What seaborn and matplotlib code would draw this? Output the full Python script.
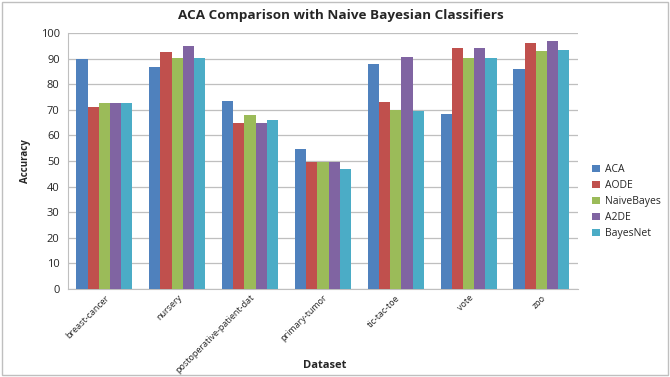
import pandas as pd
import matplotlib.pyplot as plt
import seaborn as sns
from matplotlib.patches import Rectangle

datasets = ["breast-cancer", "nursery", "postoperative-patient-dat", "primary-tumor",
            "tic-tac-toe", "vote", "zoo"]
classifiers = ["ACA", "AODE", "NaiveBayes", "A2DE", "BayesNet"]

aca = [89.7, 86.8, 73.3, 54.5, 88.0, 68.5, 86.1]
aode = [71.1, 92.7, 64.8, 49.5, 73.0, 94.3, 96.0]
naive_bayes = [72.7, 90.3, 68.1, 49.8, 69.9, 90.1, 93.1]
a2de = [72.5, 95.0, 64.8, 49.7, 90.7, 94.3, 97.0]
bayes_net = [72.6, 90.3, 65.9, 47.0, 69.7, 90.2, 93.4]

colors = ["#4F81BD", "#C0504D", "#9BBB59", "#8064A2", "#4BACC6"]

def main():
    wide = pd.DataFrame({"Dataset": datasets, "ACA": aca, "AODE": aode,
                         "NaiveBayes": naive_bayes, "A2DE": a2de, "BayesNet": bayes_net})
    df = wide.melt(id_vars="Dataset", var_name="Classifier", value_name="Accuracy")

    sns.set_style("white")
    plt.rcParams["font.family"] = ["Open Sans", "DejaVu Sans"]

    fig = plt.figure(figsize=(6.7, 3.77), dpi=100)
    ax = fig.add_axes([0.1015, 0.2334, 0.761, 0.679])

    sns.barplot(data=df, x="Dataset", y="Accuracy", hue="Classifier",
                hue_order=classifiers, palette=colors, width=0.77, saturation=1,
                linewidth=0, ax=ax, zorder=3)

    ax.set_ylim(0, 100)
    ax.set_xlim(-0.5, 6.5)
    ax.set_yticks(range(0, 101, 10))
    ax.yaxis.grid(True, color="#BFBFBF", linewidth=0.9, zorder=0)
    ax.set_axisbelow(True)
    for side in ["top", "right"]:
        ax.spines[side].set_visible(False)
    ax.spines["left"].set_color("#BFBFBF")
    ax.spines["bottom"].set_color("#BFBFBF")
    ax.tick_params(axis="y", labelsize=8, length=0, pad=6)
    ax.tick_params(axis="x", labelsize=6.5, length=0, pad=3)
    plt.setp(ax.get_xticklabels(), rotation=45, ha="right", rotation_mode="anchor")

    ax.set_title("ACA Comparison with Naive Bayesian Classifiers",
                 fontsize=9.7, fontweight="bold", pad=10, x=0.535)
    ax.set_ylabel("Accuracy", fontsize=7, fontweight="bold", labelpad=7)
    ax.set_xlabel("")
    fig.text(0.484, 0.025, "Dataset", fontsize=8, fontweight="bold", ha="center")

    ax.legend(loc="center left", bbox_to_anchor=(1.01, 0.34), frameon=False,
              fontsize=7.5, handlelength=0.7, handleheight=0.7,
              labelspacing=0.48, handletextpad=0.5)

    fig.patches.append(Rectangle((0.003, 0.005), 0.994, 0.99, transform=fig.transFigure,
                                 fill=False, edgecolor="#BFBFBF", linewidth=1))

    plt.savefig("out.png", dpi=100)
    plt.close()

if __name__ == "__main__":
    main()
